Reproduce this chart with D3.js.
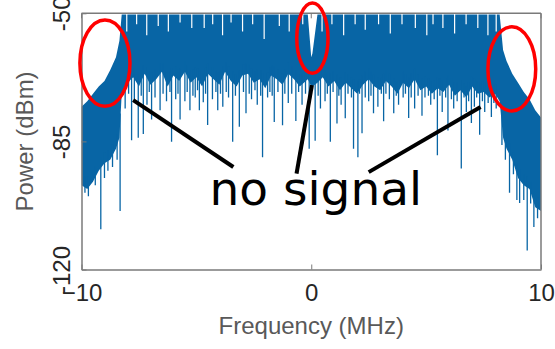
<!DOCTYPE html>
<html>
<head>
<meta charset="utf-8">
<script src="https://cdn.jsdelivr.net/npm/d3@7/dist/d3.min.js"></script>
<style>
  body { margin: 0; background: #fff; }
  svg { display: block; }
</style>
</head>
<body>
<svg id="chart" width="555" height="349"></svg>
<script>
const width = 555, height = 349;
const margin = { left: 81.5, right: 14, top: 13.3, bottom: 79.5 };

// axis ticks
const xTicks = [-10, 0, 10];
const yTicks = [-120, -85, -50];

// envelope of the dense part of the spectrum (MHz, dBm)
const envF = [-10, -9.75, -9.5, -9.25, -9.0, -8.75, -8.5, -8.35,
  -8.25, -8.0, -7.75, -7.5, -7.25, -7.0, -6.75, -6.5, -6.25, -6.0, -5.75, -5.5, -5.25, -5.0, -4.75, -4.5, -4.25, -4.0, -3.75, -3.5, -3.25, -3.0, -2.75, -2.5, -2.25, -2.0, -1.75, -1.5, -1.25, -1.0, -0.75, -0.5,
  -0.15, 0.0, 0.05, 0.27,
  0.5, 0.75, 1.0, 1.25, 1.5, 1.75, 2.0, 2.25, 2.5, 2.75, 3.0, 3.25, 3.5, 3.75, 4.0, 4.25, 4.5, 4.75, 5.0, 5.25, 5.5, 5.75, 6.0, 6.25, 6.5, 6.75, 7.0, 7.25, 7.5, 7.75, 8.0, 8.2,
  8.35, 8.5, 8.75, 9.0, 9.25, 9.5, 9.75, 10];
const envTop = [-75.5, -74, -72, -70, -68.5, -65.5, -62, -57.5,
  -50.3, -50.3, -50.3, -50.3, -50.3, -50.3, -50.3, -50.3, -50.3, -50.3, -50.3, -50.3, -50.3, -50.3, -50.3, -50.3, -50.3, -50.3, -50.3, -50.3, -50.3, -50.3, -50.3, -50.3, -50.3, -50.3, -50.3, -50.3, -50.3, -50.3, -50.3, -50.3,
  -50.3, -62, -61, -50.3,
  -50.3, -50.3, -50.3, -50.3, -50.3, -50.3, -50.3, -50.3, -50.3, -50.3, -50.3, -50.3, -50.3, -50.3, -50.3, -50.3, -50.3, -50.3, -50.3, -50.3, -50.3, -50.3, -50.3, -50.3, -50.3, -50.3, -50.3, -50.3, -50.3, -50.3, -50.3, -50.3,
  -60, -63, -66.5, -69, -71.5, -73.5, -76.5, -78.5];
const envBottom = [-97, -98, -96, -93, -91, -90, -87, -84,
  -72, -69, -67.5, -70, -66.5, -69.5, -68, -66, -70, -67, -68.5, -66, -69, -67.5, -70, -66.5, -68, -69.5, -66, -68.5, -70, -67, -66.5, -69, -68, -70.5, -67, -68, -69.5, -66.5, -68, -70,
  -68, -70, -70, -69,
  -67.5, -70, -68.5, -71, -69, -70.5, -72, -69.5, -68, -70, -71, -68.5, -70, -72, -69, -70.5, -68, -71, -70, -72, -70.5, -71.5, -69.5, -72.5, -71, -73, -70, -72, -71.5, -73, -72, -74,
  -84, -87, -90, -95, -97, -98, -103, -104];

// dips below the dense band (MHz, dBm)
const spikeF = [-9.85, -9.7, -9.55, -9.4, -9.16, -9.0, -8.85, -8.65, -8.45, -8.32,
  -8.1, -7.95, -7.82, -7.7, -7.53, -7.4, -7.31, -7.15, -7.05, -6.95, -6.8, -6.58, -6.45, -6.3, -6.15, -6.08, -5.9, -5.8, -5.71, -5.5, -5.4, -5.28, -5.15, -5.05, -4.95, -4.87, -4.7, -4.6, -4.51, -4.3, -4.15, -4.07, -3.95, -3.85, -3.7, -3.6, -3.42, -3.3, -3.13, -2.95, -2.84, -2.7, -2.6, -2.45, -2.35, -2.2, -2.12, -1.9, -1.8, -1.7, -1.61, -1.45, -1.25, -1.15, -1.0, -0.85, -0.67, -0.55, -0.4, -0.25, -0.09,
  0.17, 0.3, 0.4, 0.6, 0.7, 0.83, 0.95, 1.12, 1.2, 1.3, 1.48, 1.6, 1.75, 1.84, 2.03, 2.1, 2.21, 2.35, 2.5, 2.6, 2.71, 2.9, 3.05, 3.15, 3.25, 3.4, 3.59, 3.7, 3.8, 4.0, 4.1, 4.24, 4.35, 4.5, 4.65, 4.82, 4.95, 5.1, 5.2, 5.35, 5.49, 5.6, 5.7, 5.85, 5.95, 6.1, 6.2, 6.35, 6.53, 6.65, 6.75, 6.85, 6.97, 7.1, 7.2, 7.33, 7.45, 7.55, 7.7, 7.84, 7.95, 8.05,
  8.3, 8.45, 8.63, 8.8, 8.95, 9.07, 9.25, 9.4, 9.55, 9.69, 9.85];
const spikeDb = [-99, -100, -96, -97, -109, -95, -93, -92, -90, -104,
  -76, -72, -84.7, -74, -84, -72.5, -83, -75, -71.5, -79, -73, -76.5, -72, -74, -71.5, -85.1, -73.5, -72, -79, -74, -71.5, -76.5, -72.5, -73, -71, -76.5, -74.3, -72, -80.5, -73.5, -71.5, -76.5, -72, -75.5, -71.5, -73, -85.1, -72.5, -81, -71.5, -77.3, -72, -73.5, -71, -75, -72.5, -89.3, -73, -71.5, -72.5, -79.7, -71.5, -80.6, -72, -74.5, -72, -79.4, -71.5, -75, -72, -87,
  -84.8, -72.5, -76, -74, -72, -85.1, -71.5, -80.1, -72.5, -75, -78.7, -72, -73, -87, -89.3, -72, -82.8, -73, -74, -72.5, -77.3, -75.5, -72, -79.5, -72, -73.5, -77.3, -72.5, -75, -73, -72, -78.6, -73, -76, -72.5, -78, -73, -72.5, -75, -73.5, -88.8, -72.5, -77, -73, -82, -73.5, -76, -74, -92.4, -73, -77, -74, -80, -75.5, -73, -83.2, -74, -77, -74.5, -78.3, -74.5, -76,
  -86, -90, -99, -94, -101, -101.8, -101, -114.8, -102, -108.4, -106];

// white gaps reaching down from the top of the band (MHz, dBm)
const gapF = [-8.03, -7.6, -7.16, -6.66, -6.22, -5.71, -5.2, -4.66, -4.29, -3.86, -3.49, -2.99, -2.55, -2.05, -1.39, -0.96, -0.37,
  0.47, 0.9, 1.41, 1.91, 2.35, 2.93, 3.44, 3.95, 4.53, 5.03, 5.3, 5.73, 6.24, 6.74, 7.25, 7.69, 8.05];
const gapDb = [-55, -53, -56, -53.5, -55, -52.5, -54, -54, -53, -56, -52.5, -55, -53, -57, -53.5, -55, -53,
  -55, -53, -56, -53, -54.5, -53, -55.5, -53, -54, -56, -53, -54, -55.5, -53, -54, -56, -55];

// annotations (MHz, dBm)
const ellipses = [
  { f: -8.98, db: -63.6, rf: 1.09, rdb: 11.8 },
  { f: 0.05, db: -56.8, rf: 0.68, rdb: 9.6 },
  { f: 8.73, db: -65.2, rf: 1.04, rdb: 11.5 }
];
const pointers = [
  { f0: -7.75, db0: -73.7, f1: -3.39, db1: -92.0 },
  { f0: 0.03, db0: -69.6, f1: -0.64, db1: -93.8 },
  { f0: 7.37, db0: -75.6, f1: 2.5, db1: -93.4 }
];
const noteText = "no signal", noteF = 0.2, noteDb = -102.5;

const blue = "#0865a5", axisGray = "#7a7a7a";

const svg = d3.select("#chart");
const x = d3.scaleLinear().domain([-10, 10]).range([margin.left, width - margin.right]);
const y = d3.scaleLinear().domain([-120, -50]).range([height - margin.bottom, margin.top]);

svg.append("clipPath").attr("id", "plotClip")
  .append("rect")
  .attr("x", x(-10)).attr("y", y(-50))
  .attr("width", x(10) - x(-10)).attr("height", y(-120) - y(-50));

const plot = svg.append("g").attr("clip-path", "url(#plotClip)");

// dense band
const band = envF.map((f, i) => ({ f, top: envTop[i], bottom: envBottom[i] }));
plot.append("path")
  .datum(band)
  .attr("fill", blue)
  .attr("d", d3.area().x(d => x(d.f)).y0(d => y(d.bottom)).y1(d => y(d.top)));

// where a dip starts (just inside the band)
function bandBottomAt(f) {
  const i = Math.min(envF.length - 1, Math.max(1, d3.bisectLeft(envF, f)));
  const t = (f - envF[i - 1]) / (envF[i] - envF[i - 1]);
  return envBottom[i - 1] + t * (envBottom[i] - envBottom[i - 1]);
}

plot.selectAll(".spike")
  .data(spikeF.map((f, i) => ({ f, db: spikeDb[i] })))
  .join("line")
  .attr("class", "spike")
  .attr("x1", d => x(d.f)).attr("x2", d => x(d.f))
  .attr("y1", d => y(bandBottomAt(d.f) + 3))
  .attr("y2", d => y(d.db))
  .attr("stroke", blue)
  .attr("stroke-width", 1.3);

plot.selectAll(".gap")
  .data(gapF.map((f, i) => ({ f, db: gapDb[i] })))
  .join("line")
  .attr("class", "gap")
  .attr("x1", d => x(d.f)).attr("x2", d => x(d.f))
  .attr("y1", y(-50)).attr("y2", d => y(d.db))
  .attr("stroke", "#fff")
  .attr("stroke-width", 1.2);

// axes with box
const font = '"Liberation Sans", Arial, sans-serif';
const frame = svg.append("g");
const xAxis = frame.append("g")
  .attr("transform", `translate(0,${y(-120)})`)
  .call(d3.axisBottom(x).tickValues(xTicks).tickSizeInner(-5).tickSizeOuter(0).tickPadding(14));
const yAxis = frame.append("g")
  .attr("transform", `translate(${x(-10)},0)`)
  .call(d3.axisLeft(y).tickValues(yTicks).tickSizeInner(-5).tickSizeOuter(0).tickFormat(d => d));

frame.append("line").attr("class", "box").attr("x1", x(-10)).attr("x2", x(10)).attr("y1", y(-50)).attr("y2", y(-50));
frame.append("line").attr("class", "box").attr("x1", x(10)).attr("x2", x(10)).attr("y1", y(-50)).attr("y2", y(-120));
frame.selectAll(".tickTop").data(xTicks).join("line")
  .attr("class", "tickTop")
  .attr("x1", d => x(d)).attr("x2", d => x(d)).attr("y1", y(-50)).attr("y2", y(-50) + 5);
frame.selectAll(".box, .domain").attr("stroke", axisGray).attr("stroke-width", 1.5);
frame.selectAll(".tick line, .tickTop").attr("stroke", axisGray).attr("stroke-width", 1);

xAxis.selectAll("text").attr("font-size", 24).attr("fill", "#262626").attr("font-family", font);
yAxis.selectAll("text")
  .attr("font-size", 24).attr("fill", "#262626").attr("font-family", font)
  .attr("text-anchor", "middle")
  .attr("dy", 0)
  .attr("x", 0)
  .attr("transform", "translate(-11.5,0) rotate(-90)");

svg.append("text")
  .attr("x", (x(-10) + x(10)) / 2).attr("y", 334)
  .attr("text-anchor", "middle")
  .attr("font-family", font).attr("font-size", 24).attr("fill", "#595959")
  .text("Frequency (MHz)");
svg.append("text")
  .attr("transform", `translate(33,${(y(-50) + y(-120)) / 2}) rotate(-90)`)
  .attr("text-anchor", "middle")
  .attr("font-family", font).attr("font-size", 24).attr("fill", "#595959")
  .text("Power (dBm)");

// annotations
svg.selectAll(".note-ellipse")
  .data(ellipses).join("ellipse")
  .attr("class", "note-ellipse")
  .attr("cx", d => x(d.f)).attr("cy", d => y(d.db))
  .attr("rx", d => x(d.rf) - x(0)).attr("ry", d => y(-d.rdb) - y(0))
  .attr("fill", "none").attr("stroke", "#ff0000").attr("stroke-width", 3.5);

svg.selectAll(".note-line")
  .data(pointers).join("line")
  .attr("class", "note-line")
  .attr("x1", d => x(d.f0)).attr("y1", d => y(d.db0))
  .attr("x2", d => x(d.f1)).attr("y2", d => y(d.db1))
  .attr("stroke", "#000").attr("stroke-width", 4);

svg.append("text")
  .attr("x", x(noteF)).attr("y", y(noteDb))
  .attr("text-anchor", "middle")
  .attr("font-family", '"DejaVu Sans", sans-serif').attr("font-size", 47).attr("fill", "#000")
  .text(noteText);
</script>
</body>
</html>
